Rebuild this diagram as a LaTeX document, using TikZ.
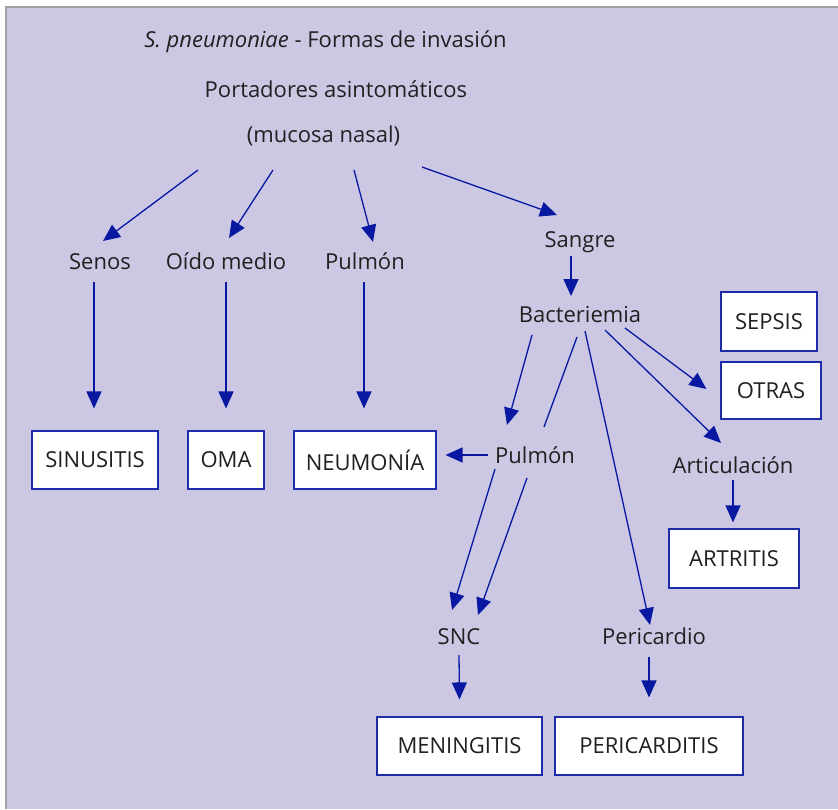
\documentclass[tikz,border=0pt]{standalone}
\usepackage{fontspec}
\setmainfont{Open Sans}
\usetikzlibrary{arrows.meta}
\definecolor{bgl}{RGB}{204,200,228}
\definecolor{arrblue}{RGB}{8,24,160}
\definecolor{boxblue}{RGB}{30,44,170}
\definecolor{txt}{RGB}{35,31,32}
\definecolor{frame}{RGB}{160,160,165}
\tikzset{
  lbl/.style={inner sep=0pt, anchor=base, text=txt, font=\fontsize{22}{26}\selectfont},
  dbox/.style={draw=boxblue, line width=1.1pt, fill=white, inner sep=0pt, text=txt,
    font=\fontsize{22}{26}\selectfont, minimum height=58pt},
  arr/.style={draw=arrblue, line width=1.3pt, -{Triangle[length=17pt,width=15pt]}},
  ln/.style={draw=arrblue, line width=1.3pt}
}
\begin{document}
\begin{tikzpicture}[x=1pt,y=-1pt]
\useasboundingbox (0,0) rectangle (838,809);
\fill[bgl] (6,7) rectangle (838,809);
\draw[frame, line width=1.2pt] (6,809) -- (6,7) -- (838,7);

% texts
\node[lbl] (title) at (325.5,47) {\textit{S. pneumoniae} - Formas de invasión};
\node[lbl] (port) at (336,97) {Portadores asintomáticos};
\node[lbl] (muc) at (323.5,142) {(mucosa nasal)};
\node[lbl] (senos) at (100,269) {Senos};
\node[lbl] (oido) at (226,269) {Oído medio};
\node[lbl] (pulm) at (365,269) {Pulmón};
\node[lbl] (sangre) at (580,247) {Sangre};
\node[lbl] (bact) at (580,322) {Bacteriemia};
\node[lbl] (pulm2) at (535,463) {Pulmón};
\node[lbl] (artic) at (733,473) {Articulación};
\node[lbl] (snc) at (459,644) {SNC};
\node[lbl] (peri) at (654,644) {Pericardio};

% boxes
\node[dbox, minimum width=126pt] (sinus) at (95,460) {SINUSITIS};
\node[dbox, minimum width=76pt] (oma) at (226,460) {OMA};
\node[dbox, minimum width=142pt] (neu) at (365,460) {NEUMONÍA};
\node[dbox, minimum width=96pt, minimum height=59pt] (sepsis) at (769,321.5) {SEPSIS};
\node[dbox, minimum width=100pt, minimum height=57pt] (otras) at (771,390.5) {OTRAS};
\node[dbox, minimum width=130pt, minimum height=59pt] (artr) at (734,558.5) {ARTRITIS};
\node[dbox, minimum width=165pt] (men) at (459.5,746) {MENINGITIS};
\node[dbox, minimum width=188pt] (pcard) at (649,746) {PERICARDITIS};

% arrows from top
\draw[arr] ([shift={(-125.5,28)}]muc.base) -- ([shift={(3,-28)}]senos.base);
\draw[arr] ([shift={(-50.5,28)}]muc.base) -- ([shift={(3,-31)}]oido.base);
\draw[arr] ([shift={(30.5,28)}]muc.base) -- ([shift={(8,-27)}]pulm.base);
\draw[arr] ([shift={(98.5,25)}]muc.base) -- ([shift={(-23,-32)}]sangre.base);
\draw[arr] ([shift={(-9,9)}]sangre.base) -- ([shift={(-9,-26)}]bact.base);

% left column
\draw[arr] ([shift={(-6,13)}]senos.base) -- ([shift={(-1,-22)}]sinus.north);
\draw[arr] ([shift={(0,13)}]oido.base) -- ([shift={(0,-22)}]oma.north);
\draw[arr] ([shift={(-1,13)}]pulm.base) -- ([shift={(-1,-22)}]neu.north);

% from Bacteriemia
\draw[arr] ([shift={(-48,13)}]bact.base) -- ([shift={(-28,-38)}]pulm2.base);
\draw[ln] ([shift={(-3,15)}]bact.base) -- ([shift={(9,-36)}]pulm2.base);
\draw[arr] ([shift={(5,9)}]bact.base) -- ([shift={(-4,-19)}]peri.base);
\draw[arr] ([shift={(25,8)}]bact.base) -- ([shift={(-12,-30)}]artic.base);
\draw[arr] ([shift={(45,6)}]bact.base) -- ([shift={(-14,-1.5)}]otras.west);

% from Pulmon 2
\draw[arr] ([shift={(-47,-8)}]pulm2.base) -- ([shift={(9,-5)}]neu.east);
\draw[arr] ([shift={(-40,6)}]pulm2.base) -- ([shift={(-7,-34)}]snc.base);
\draw[arr] ([shift={(-8,15)}]pulm2.base) -- ([shift={(19,-29)}]snc.base);

% lower
\draw[arr] ([shift={(0,7)}]artic.base) -- ([shift={(-1,-6)}]artr.north);
\draw[arr] ([shift={(0,11)}]snc.base) -- ([shift={(0,-17)}]men.north);
\draw[arr] ([shift={(-5,13)}]peri.base) -- ([shift={(0,-19)}]pcard.north);
\end{tikzpicture}
\end{document}
